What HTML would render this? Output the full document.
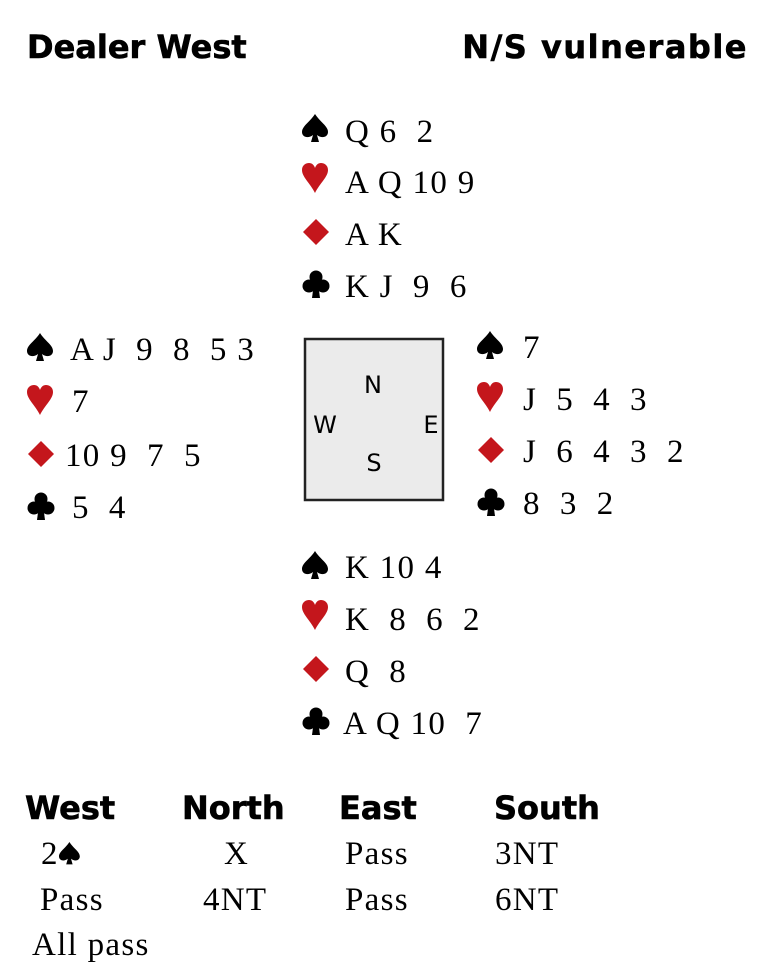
<!DOCTYPE html>
<html><head><meta charset="utf-8"><style>
html,body{margin:0;padding:0;background:#fff;}
svg{display:block}
.h{font-family:"DejaVu Sans","Liberation Sans",sans-serif;font-weight:bold;font-size:32px;fill:#000;stroke:#000;stroke-width:0.6}
.t{font-family:"Liberation Serif",serif;font-size:33px;fill:#000;letter-spacing:1.3px}
.c{font-family:"DejaVu Sans","Liberation Sans",sans-serif;font-size:24px;fill:#000}
</style></head><body>
<svg width="775" height="978" xmlns="http://www.w3.org/2000/svg">
<defs>
<g id="sp"><path d="M13 0C8 8 0 12 0 18C0 23 6 25 11 21L9 28L17 28L15 21C20 25 26 23 26 18C26 12 18 8 13 0Z" fill="#000"/></g>
<g id="he"><path d="M13 30C8 20 0 14 0 7C0 2 4 0 7 0C10 0 12 2 13 5C14 2 16 0 19 0C22 0 26 2 26 7C26 14 18 20 13 30Z" fill="#c4161c"/></g>
<g id="di"><path d="M13 0L26 13L13 26L0 13Z" fill="#c4161c"/></g>
<g id="cl"><circle cx="14" cy="7" r="6.5"/><circle cx="7" cy="16" r="6.5"/><circle cx="21" cy="16" r="6.5"/><path d="M12 13L10 28L18 28L16 13Z"/></g>
</defs>
<text class="h" x="27" y="58">Dealer West</text>
<text class="h" x="748" y="58" text-anchor="end" style="letter-spacing:1.5px">N/S vulnerable</text>

<use href="#sp" x="302" y="114"/><text class="t" x="345" y="142" xml:space="preserve">Q 6  2</text>
<use href="#he" x="302" y="163"/><text class="t" x="345" y="193">A Q 10 9</text>
<use href="#di" x="303" y="219"/><text class="t" x="345" y="245">A K</text>
<use href="#cl" x="302" y="270"/><text class="t" x="345" y="297" xml:space="preserve">K J  9  6</text>

<use href="#sp" x="27" y="333"/><text class="t" x="70" y="360" xml:space="preserve">A J  9  8  5 3</text>
<use href="#he" x="27" y="385"/><text class="t" x="72" y="412">7</text>
<use href="#di" x="28" y="441"/><text class="t" x="65" y="466" xml:space="preserve">10 9  7  5</text>
<use href="#cl" x="27" y="492"/><text class="t" x="72" y="518" xml:space="preserve">5  4</text>

<rect x="305" y="339" width="138" height="161" fill="#ebebeb" stroke="#222" stroke-width="2.5"/>
<text class="c" x="373" y="393" text-anchor="middle">N</text>
<text class="c" x="325" y="433" text-anchor="middle">W</text>
<text class="c" x="431" y="433" text-anchor="middle">E</text>
<text class="c" x="374" y="471" text-anchor="middle">S</text>

<use href="#sp" x="477" y="331"/><text class="t" x="523" y="358">7</text>
<use href="#he" x="477" y="382"/><text class="t" x="523" y="410" xml:space="preserve">J  5  4  3</text>
<use href="#di" x="478" y="437"/><text class="t" x="523" y="462" xml:space="preserve">J  6  4  3  2</text>
<use href="#cl" x="477" y="488"/><text class="t" x="523" y="514" xml:space="preserve">8  3  2</text>

<use href="#sp" x="302" y="551"/><text class="t" x="345" y="578">K 10 4</text>
<use href="#he" x="302" y="600"/><text class="t" x="345" y="630" xml:space="preserve">K  8  6  2</text>
<use href="#di" x="303" y="656"/><text class="t" x="345" y="682" xml:space="preserve">Q  8</text>
<use href="#cl" x="302" y="707"/><text class="t" x="343" y="734" xml:space="preserve">A Q 10  7</text>

<text class="h" x="25" y="819">West</text>
<text class="h" x="182" y="819">North</text>
<text class="h" x="339" y="819">East</text>
<text class="h" x="494" y="819">South</text>

<text class="t" x="41" y="864">2</text><use href="#sp" transform="translate(59,842) scale(0.8)"/>
<text class="t" x="224" y="864">X</text>
<text class="t" x="345" y="864">Pass</text>
<text class="t" x="495" y="864">3NT</text>

<text class="t" x="40" y="910">Pass</text>
<text class="t" x="203" y="910">4NT</text>
<text class="t" x="345" y="910">Pass</text>
<text class="t" x="495" y="910">6NT</text>

<text class="t" x="32" y="955">All pass</text>
</svg>
</body></html>
